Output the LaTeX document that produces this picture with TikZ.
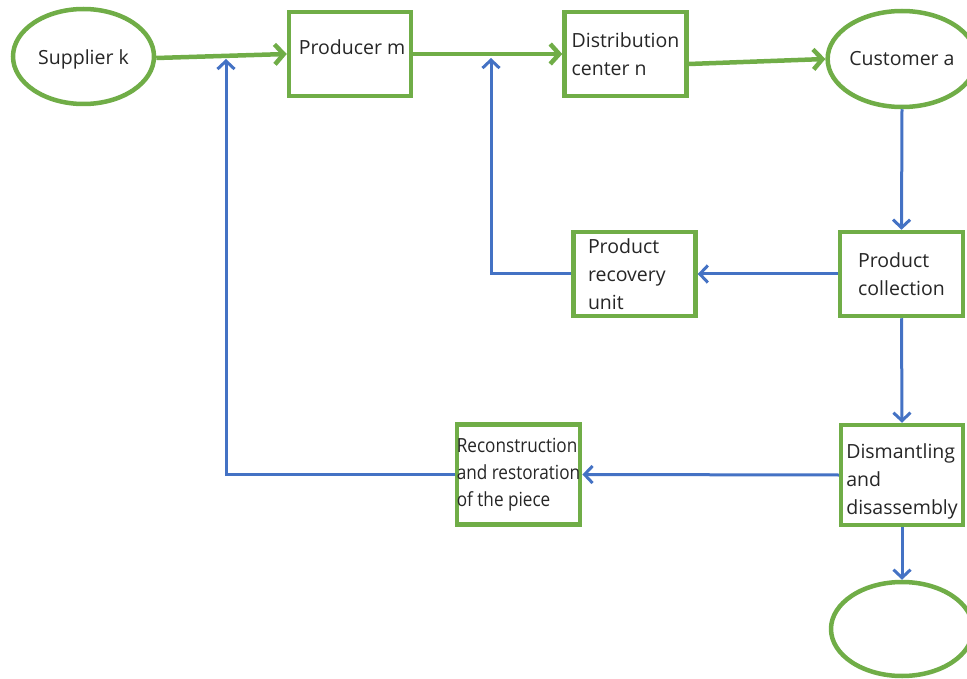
\documentclass[tikz,border=0pt]{standalone}
\usepackage{fontspec}
\setmainfont{Open Sans}
\newfontfamily\narrowfont[FakeStretch=0.88]{Open Sans}
\usetikzlibrary{arrows.meta,shapes.geometric}

\definecolor{flowgreen}{RGB}{112,173,71}
\definecolor{flowblue}{RGB}{68,114,196}

% taller first line: pushes a centred text block downwards
\newcommand{\dropline}[1]{\rule{0pt}{#1}}
% deeper line: lifts a centred text block upwards
\newcommand{\liftline}[1]{\rule[-#1]{0pt}{#1}}

\begin{document}
\begin{tikzpicture}[x=1pt,y=-1pt,
  every node/.style={font=\fontsize{19.5}{28}\selectfont, text=black!85},
  stagebox/.style={draw=flowgreen, line width=4.5pt, rectangle, fill=white,
    minimum width=122pt, minimum height=84pt, align=left, inner sep=0pt},
  endpoint/.style={draw=flowgreen, line width=4.5pt, ellipse, fill=white, inner sep=0pt},
  forward/.style={draw=flowgreen, line width=4.5pt,
    -{Straight Barb[length=9pt,width=20pt,line width=4.5pt]}},
  reverse/.style={draw=flowblue, line width=3pt,
    -{Straight Barb[length=8pt,width=17pt,line width=3pt]}}]

\useasboundingbox (0,0) rectangle (967,679);

% forward chain
\node[endpoint, minimum width=141pt, minimum height=95pt] (sup) at (83.5,56.5) {\dropline{20pt}Supplier k};
\node[stagebox] (prod) at (350,54) {\hspace*{4pt}Producer m\liftline{13pt}};
\node[stagebox] (dist) at (625.5,54) {Distribution\\center n};
\node[endpoint, minimum width=140pt, minimum height=96pt] (cust) at (902,59) {Customer a};

% reverse chain
\node[stagebox, minimum width=123pt] (coll) at (901.5,274) {Product\\collection};
\node[stagebox, text width=93pt] (rec) at (634.5,274) {Product\\recovery\\unit};
\node[stagebox, minimum height=100pt] (dis) at (902,475) {\dropline{28pt}Dismantling\\and\\disassembly};
\node[stagebox, minimum height=100pt, font=\narrowfont\fontsize{19.5}{27}\selectfont] (recon) at (518.5,474.5)
  {Reconstruction\\and restoration\\of the piece};
\node[endpoint, minimum width=142pt, minimum height=94pt] (sink) at (902,629) {};

% junctions on the forward flow
\coordinate (j1) at (226,59);
\coordinate (j2) at (491,58);

% return flows
\draw[reverse] (cust.south) -- (coll.north);
\draw[reverse] (coll.west) -- (rec.east);
\draw[reverse] (rec.west) -| (j2);
\draw[reverse] (coll.south) -- (dis.north);
\draw[reverse] (dis.west) -- (recon.east);
\draw[reverse] (recon.west) -| (j1);
\draw[reverse] (dis.south) -- (sink.north);

% forward flows
\draw[forward] ([yshift=-1.5pt]sup.east) -- (prod.west);
\draw[forward] (prod.east) -- (dist.west);
\draw[forward] ([yshift=-10pt]dist.east) -- (cust.west);

\end{tikzpicture}
\end{document}
